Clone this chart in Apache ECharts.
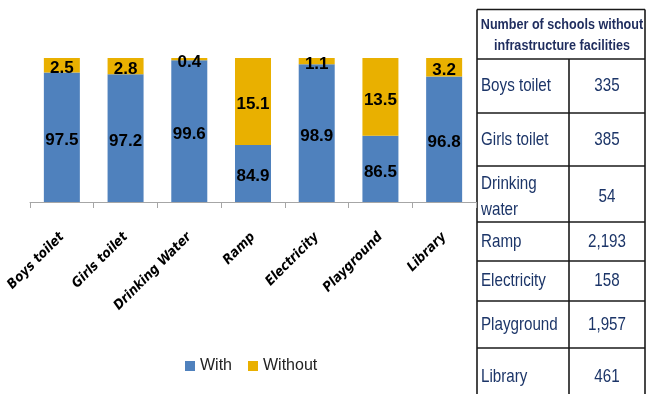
<!DOCTYPE html>
<html>
<head>
<meta charset="utf-8">
<script src="https://cdn.jsdelivr.net/npm/echarts@6/dist/echarts.min.js"></script>
<style>
  html, body { margin: 0; padding: 0; background: #fff; }
  #chart { width: 646px; height: 394px; }
</style>
</head>
<body>
<div id="chart"></div>
<script>
// Share of schools with / without each facility (%)
const categories = ['Boys toilet', 'Girls toilet', 'Drinking Water', 'Ramp', 'Electricity', 'Playground', 'Library'];
const withPct = [97.5, 97.2, 99.6, 84.9, 98.9, 86.5, 96.8];
const withoutPct = [2.5, 2.8, 0.4, 15.1, 1.1, 13.5, 3.2];
const seriesNames = ['With', 'Without'];

// Side table: number of schools lacking each facility
const tableTitle = ['Number of schools without', 'infrastructure facilities'];
const tableRows = ['Boys toilet', 'Girls toilet', 'Drinking\nwater', 'Ramp', 'Electricity', 'Playground', 'Library'];
const schoolsWithout = [335, 385, 54, 2193, 158, 1957, 461];

const sans = "'Liberation Sans', Arial, sans-serif";
const condensed = "'DejaVu Sans Condensed', 'Liberation Sans', sans-serif";
const navy = '#1C3568';
const lineColor = '#1a1a1a';
const squeeze = 0.82;   // horizontal squeeze to get a narrow, Calibri-like face

// table layout
const tLeft = 477, tRight = 645, tDiv = 569, tTop = 9.5;
const rowEdges = [59, 113, 166, 222, 261, 301, 348, 406];

const graphics = [];
const hLine = (y, x1, x2) => graphics.push({
  type: 'line', silent: true,
  shape: { x1: x1, y1: y, x2: x2, y2: y },
  style: { stroke: lineColor, lineWidth: 1.6 }
});
const vLine = (x, y1, y2) => graphics.push({
  type: 'line', silent: true,
  shape: { x1: x, y1: y1, x2: x, y2: y2 },
  style: { stroke: lineColor, lineWidth: 1.6 }
});
const label = (text, x, y, align, font, fill, sx, lineHeight) => graphics.push({
  type: 'text', silent: true,
  x: x, y: y, scaleX: sx,
  style: {
    text: text, x: 0, y: 0,
    textAlign: align, textVerticalAlign: 'middle',
    font: font, fill: fill, lineHeight: lineHeight || 22
  }
});

hLine(tTop, tLeft, tRight);
rowEdges.slice(0, -1).forEach(y => hLine(y, tLeft, tRight));
vLine(tLeft, tTop, 394);
vLine(tRight, tTop, 394);
vLine(tDiv, rowEdges[0], 394);

label(tableTitle.join('\n'), (tLeft + tRight) / 2 + 1, (tTop + rowEdges[0]) / 2 + 1,
      'center', 'bold 15px ' + sans, '#1F2D5E', 0.84, 21);

tableRows.forEach((name, i) => {
  const cy = (rowEdges[i] + rowEdges[i + 1]) / 2;
  const shift = name.indexOf('\n') >= 0 ? 3 : 0;
  label(name, tLeft + 4, cy + shift, 'left', '18.5px ' + sans, navy, squeeze, 26);
  label(schoolsWithout[i].toLocaleString('en-US'), (tDiv + tRight) / 2, cy + shift,
        'center', '18.5px ' + sans, navy, squeeze);
});

const labelStyle = {
  show: true,
  position: 'inside',
  offset: [0, 3],
  color: '#000',
  fontFamily: sans,
  fontWeight: 'bold',
  fontSize: 17,
  formatter: p => p.value.toFixed(1)
};

const chart = echarts.init(document.getElementById('chart'));
chart.setOption({
  animation: false,
  backgroundColor: '#fff',
  grid: { left: 30, right: 170, top: 58, bottom: 192 },
  legend: {
    data: seriesNames,
    left: 180, top: 353,
    icon: 'rect', itemWidth: 10, itemHeight: 10, itemGap: 16,
    textStyle: { fontFamily: sans, fontSize: 16, color: '#222' }
  },
  xAxis: {
    type: 'category',
    data: categories,
    axisLine: { lineStyle: { color: '#A6A6A6', width: 1 } },
    axisTick: { show: true, length: 6, lineStyle: { color: '#A6A6A6' } },
    axisLabel: {
      rotate: 45, margin: 33, interval: 0,
      fontFamily: condensed, fontSize: 13.5, fontWeight: 'bold', fontStyle: 'italic', color: '#000'
    }
  },
  yAxis: {
    type: 'value', min: 75, max: 100, startValue: 75, show: false,
    splitLine: { show: false }
  },
  series: [
    {
      name: seriesNames[0], type: 'bar', stack: 'share', barWidth: 36,
      data: withPct,
      itemStyle: { color: '#4F81BD' },
      label: labelStyle
    },
    {
      name: seriesNames[1], type: 'bar', stack: 'share', barWidth: 36,
      data: withoutPct,
      itemStyle: { color: '#E9B000' },
      label: labelStyle
    }
  ],
  graphic: graphics
});
</script>
</body>
</html>
